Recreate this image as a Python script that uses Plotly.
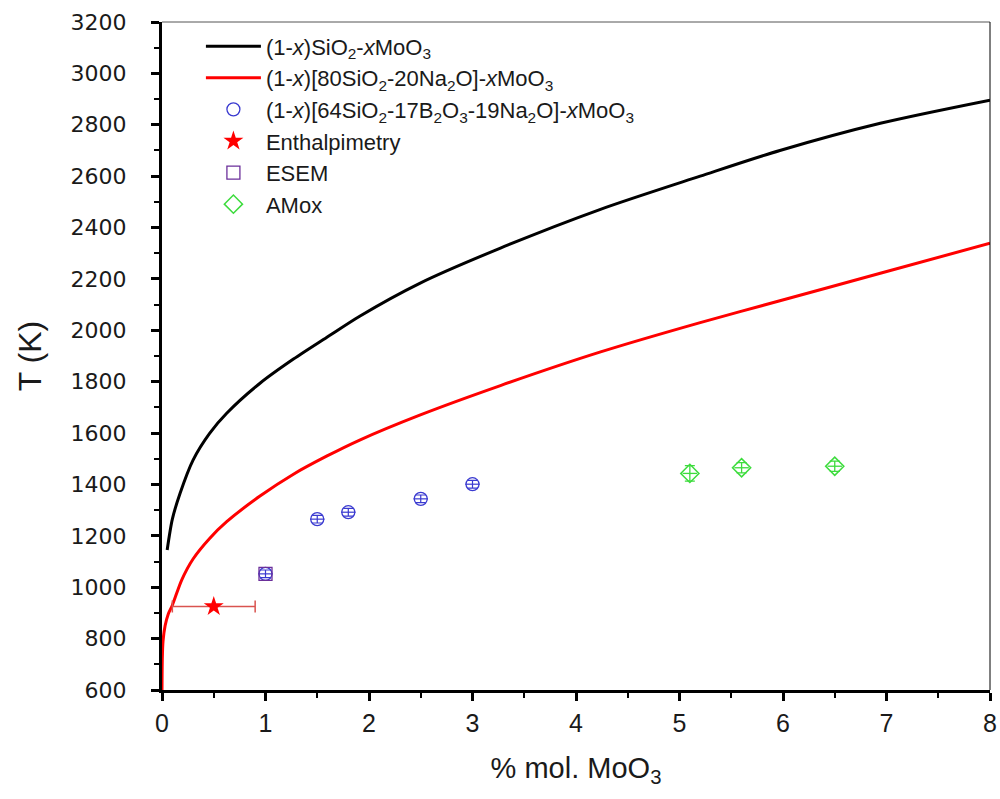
import plotly.graph_objects as go

# --- data ---
x_sio2 = [0.05, 0.10, 0.174, 0.30, 0.46, 0.625, 0.947, 1.27, 1.59, 1.91, 2.49, 3.27, 4.23, 5.20, 5.97, 6.94, 8.0]
t_sio2 = [1145, 1265, 1365, 1495, 1599, 1677, 1794, 1888, 1972, 2055, 2183, 2320, 2470, 2600, 2700, 2806, 2896]

x_nas = [0.0, 0.003, 0.01, 0.03, 0.06, 0.10, 0.19, 0.30, 0.46, 0.625, 0.947, 1.27, 1.59, 1.91, 2.49, 3.27, 4.23, 5.20, 5.97, 6.94, 8.0]
t_nas = [600, 720, 790, 850, 895, 930, 1028, 1110, 1190, 1255, 1355, 1440, 1510, 1573, 1670, 1785, 1915, 2030, 2115, 2222, 2339]

x_nbs = [1.0, 1.5, 1.8, 2.5, 3.0]
t_nbs = [1052, 1265, 1292, 1344, 1401]
t_nbs_err = [15, 15, 15, 15, 15]
x_nbs_err = [0.07, 0.07, 0.07, 0.07, 0.07]

x_enth = [0.5]
t_enth = [925]
x_enth_err = [0.4]

x_esem = [1.0]
t_esem = [1052]

x_amox = [5.1, 5.6, 6.5]
t_amox = [1443, 1465, 1471]
t_amox_err = [30, 20, 20]
x_amox_err = [0.07, 0.07, 0.07]

x_ticks = [0, 1, 2, 3, 4, 5, 6, 7, 8]
y_ticks = list(range(600, 3201, 200))

BLUE = "#3a3ad0"
PURPLE = "#6b2f9a"
GREEN = "#3ddc3d"
RED = "#ff0000"

fig = go.Figure()

fig.add_trace(go.Scatter(
    x=x_sio2, y=t_sio2, mode="lines", line=dict(color="black", width=3, shape="spline", smoothing=0.8),
    name="(1-<i>x</i>)SiO<sub>2</sub>-<i>x</i>MoO<sub>3</sub>"))
fig.add_trace(go.Scatter(
    x=x_nas, y=t_nas, mode="lines", line=dict(color=RED, width=3, shape="spline", smoothing=0.8),
    name="(1-<i>x</i>)[80SiO<sub>2</sub>-20Na<sub>2</sub>O]-<i>x</i>MoO<sub>3</sub>"))
fig.add_trace(go.Scatter(
    x=x_nbs, y=t_nbs, mode="markers",
    marker=dict(symbol="circle-open", size=13, color=BLUE, line=dict(width=1.3, color=BLUE)),
    error_y=dict(type="data", array=t_nbs_err, color=BLUE, thickness=1.2, width=5),
    error_x=dict(type="data", array=x_nbs_err, color=BLUE, thickness=1.2, width=0),
    name="(1-<i>x</i>)[64SiO<sub>2</sub>-17B<sub>2</sub>O<sub>3</sub>-19Na<sub>2</sub>O]-<i>x</i>MoO<sub>3</sub>"))
fig.add_trace(go.Scatter(
    x=x_enth, y=t_enth, mode="markers",
    marker=dict(symbol="star", size=15, color=RED, line=dict(width=0)),
    error_x=dict(type="data", array=x_enth_err, color="#d9534f", thickness=1.5, width=6),
    name="Enthalpimetry"))
fig.add_trace(go.Scatter(
    x=x_esem, y=t_esem, mode="markers",
    marker=dict(symbol="square-open", size=13, color=PURPLE, line=dict(width=1.3, color=PURPLE)),
    name="ESEM"))
fig.add_trace(go.Scatter(
    x=x_amox, y=t_amox, mode="markers",
    marker=dict(symbol="diamond-open", size=14, color=GREEN, line=dict(width=1.5, color=GREEN)),
    error_y=dict(type="data", array=t_amox_err, color=GREEN, thickness=1.3, width=5),
    error_x=dict(type="data", array=x_amox_err, color=GREEN, thickness=1.3, width=0),
    name="AMox"))

FONT = "Liberation Sans, Arial, sans-serif"
WIDE = "DejaVu Sans, Liberation Sans, sans-serif"
TXT = "#1a1a1a"

fig.update_layout(
    width=1000, height=799,
    margin=dict(l=162, r=10, t=22, b=109),
    paper_bgcolor="white", plot_bgcolor="white",
    font=dict(family=FONT, color=TXT),
    showlegend=True,
    legend=dict(x=0.047, y=0.995, xanchor="left", yanchor="top",
                bgcolor="rgba(0,0,0,0)", borderwidth=0,
                font=dict(size=22, family=FONT, color=TXT),
                itemwidth=55, tracegroupgap=0),
    xaxis=dict(range=[0, 8], tickmode="array", tickvals=x_ticks, automargin=False,
               showgrid=False, zeroline=False,
               showline=True, linecolor="black", linewidth=3,
               ticks="outside", ticklen=8, tickwidth=3, tickcolor="black",
               minor=dict(ticks="outside", ticklen=5, tickwidth=2, tickcolor="black", dtick=0.5, showgrid=False),
               tickfont=dict(size=25, family=FONT, color=TXT), ticklabelstandoff=1,
               title=dict(text="% mol. MoO<sub>3</sub>", font=dict(size=29, family=FONT, color=TXT), standoff=22)),
    yaxis=dict(range=[600, 3200], tickmode="array", tickvals=y_ticks, automargin=False,
               showgrid=False, zeroline=False,
               showline=True, linecolor="black", linewidth=3,
               ticks="outside", ticklen=8, tickwidth=3, tickcolor="black",
               minor=dict(ticks="outside", ticklen=5, tickwidth=2, tickcolor="black", dtick=100, showgrid=False),
               tickfont=dict(size=22, family=WIDE, color=TXT), ticklabelstandoff=20,
               title=dict(text="T (K)", font=dict(size=32, family=FONT, color=TXT), standoff=20)),
    shapes=[
        dict(type="line", xref="paper", yref="paper", x0=0, x1=1, y0=1, y1=1, line=dict(color="#555555", width=1)),
        dict(type="line", xref="paper", yref="paper", x0=1, x1=1, y0=0, y1=1, line=dict(color="black", width=1)),
    ],
)

fig.write_html("out.html", config={"displayModeBar": False},
               post_script="document.body.style.margin='0px';document.body.style.padding='0px';")
